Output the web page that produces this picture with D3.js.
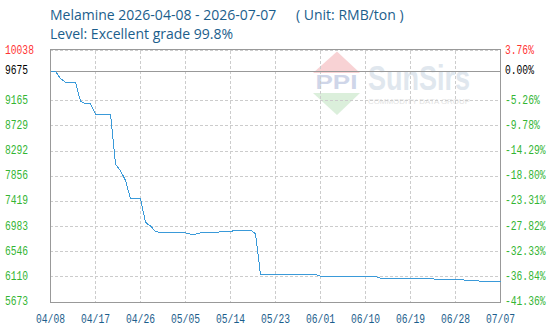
<!DOCTYPE html>
<html lang="en">
<head>
    <meta charset="UTF-8">
    <title>Melamine price</title>
    <style>
        body { margin: 0; background: #fff; }
        svg { display: block; }
        .title { font-family: "Open Sans", sans-serif; font-size: 14px; fill: #1b5e8c; }
        .tick-label { font-family: "Liberation Mono", monospace; font-size: 12px; }
        .grid { stroke: #cccccc; stroke-width: 1; stroke-dasharray: 3,2; shape-rendering: crispEdges; }
        .axis-line { stroke: #999999; stroke-width: 1; shape-rendering: crispEdges; }
        .price-line { fill: none; stroke: #3a9ad9; stroke-width: 1; shape-rendering: crispEdges; }
    </style>
</head>
<body>
    <svg width="550" height="332"></svg>
    <script src="https://d3js.org/d3.v7.min.js"></script>
    <script>
        // first day of the series, one value per day after it
        const startDate = "2026-04-08";
        const prices = [
            9675, 9675, 9550, 9485, 9485, 9485, 9160, 9110, 9110, 8935,
            8935, 8935, 8935, 8065, 7950, 7785, 7465, 7465, 7465, 7055,
            6990, 6900, 6875, 6875, 6875, 6875, 6875, 6875, 6850, 6850,
            6875, 6875, 6875, 6875, 6895, 6895, 6895, 6920, 6920, 6920,
            6920, 6860, 6150, 6150, 6150, 6150, 6150, 6150, 6150, 6150,
            6150, 6150, 6150, 6150, 6120, 6120, 6120, 6120, 6120, 6120,
            6120, 6120, 6120, 6120, 6120, 6120, 6083, 6083, 6083, 6083,
            6083, 6083, 6083, 6083, 6083, 6083, 6083, 6066, 6066, 6066,
            6066, 6066, 6066, 6049, 6049, 6049, 6031, 6031, 6031, 6031,
            6031
        ];
        const xTickLabels = ["04/08", "04/17", "04/26", "05/05", "05/14", "05/23",
                             "06/01", "06/10", "06/19", "06/28", "07/07"];
        const yTickValues = [5673, 6109.5, 6546, 6982.5, 7419, 7855.5, 8292, 8728.5, 9165, 9675, 10038];
        const yLeftLabels = ["5673", "6110", "6546", "6983", "7419", "7856", "8292", "8729", "9165", "9675", "10038"];
        const yRightLabels = ["-41.36%", "-36.84%", "-32.33%", "-27.82%", "-23.31%", "-18.80%",
                              "-14.29%", "-9.78%", "-5.26%", "0.00%", "3.76%"];
        const baseValue = 9675;

        const plotLeft = 50, plotRight = 500, plotTop = 50.5, plotBottom = 302;
        const squeeze = 5.8 / 7.2; // narrow pixel-font look of the tick labels

        const parseDay = d3.timeParse("%Y-%m-%d");
        const parseTick = d3.timeParse("%Y/%m/%d");
        const start = parseDay(startDate);
        const series = prices.map((v, i) => ({ date: d3.timeDay.offset(start, i), value: v }));
        const tickDates = xTickLabels.map(l => parseTick("2026/" + l));

        const x = d3.scaleTime()
            .domain([tickDates[0], tickDates[tickDates.length - 1]])
            .range([plotLeft, plotRight]);
        const y = d3.scaleLinear()
            .domain([yTickValues[0], yTickValues[yTickValues.length - 1]])
            .range([plotBottom, plotTop]);

        const px = v => Math.floor(v) + 0.5;
        const svg = d3.select("svg");

        // title
        svg.append("text").attr("class", "title").attr("x", 50).attr("y", 19.5)
            .text("Melamine 2026-04-08 - 2026-07-07");
        svg.append("text").attr("class", "title").attr("x", 296).attr("y", 19.5)
            .text("( Unit: RMB/ton )");
        svg.append("text").attr("class", "title").attr("x", 50).attr("y", 38.5)
            .text("Level: Excellent grade 99.8%");

        // watermark
        const wm = svg.append("g").attr("opacity", 0.7);
        wm.append("path").attr("d", "M313,73 L337,51.5 L360,73 Z").attr("fill", "#f6c0c3");
        wm.append("path").attr("d", "M313,93 L360,93 L337,115 Z").attr("fill", "#cde9cd");
        wm.append("text").attr("x", 336.5).attr("y", 89)
            .attr("text-anchor", "middle")
            .attr("font-family", "Liberation Sans, sans-serif").attr("font-weight", "bold")
            .attr("font-size", 20).attr("fill", "#bcc6e0")
            .attr("textLength", 42).attr("lengthAdjust", "spacingAndGlyphs")
            .text("PPI");
        wm.append("text").attr("x", 368).attr("y", 90)
            .attr("font-family", "Liberation Sans, sans-serif").attr("font-weight", "bold")
            .attr("font-size", 35).attr("fill", "#d3dde8")
            .attr("textLength", 102).attr("lengthAdjust", "spacingAndGlyphs")
            .text("SunSirs");
        wm.append("text").attr("x", 368).attr("y", 104)
            .attr("font-family", "Liberation Sans, sans-serif")
            .attr("font-size", 6.5).attr("fill", "#d6d6d6")
            .attr("textLength", 102).attr("lengthAdjust", "spacingAndGlyphs")
            .text("COMMODITY DATA GROUP");

        // vertical grid
        svg.selectAll(".vgrid")
            .data(tickDates.slice(1, -1))
            .enter()
            .append("line")
            .attr("class", "grid")
            .attr("x1", d => px(x(d))).attr("x2", d => px(x(d)))
            .attr("y1", plotTop).attr("y2", plotBottom);

        // horizontal grid (not the base line and not the bottom axis)
        svg.selectAll(".hgrid")
            .data(yTickValues.filter(v => v !== baseValue && v !== yTickValues[0]))
            .enter()
            .append("line")
            .attr("class", "grid")
            .attr("x1", plotLeft).attr("x2", plotRight)
            .attr("y1", d => px(y(d))).attr("y2", d => px(y(d)));

        // frame and base line
        svg.append("line").attr("class", "axis-line")
            .attr("x1", plotLeft).attr("x2", plotRight + 1).attr("y1", 49.5).attr("y2", 49.5);
        svg.append("line").attr("class", "axis-line")
            .attr("x1", plotLeft).attr("x2", plotRight + 1)
            .attr("y1", px(y(baseValue))).attr("y2", px(y(baseValue)));
        svg.append("line").attr("class", "axis-line")
            .attr("x1", plotLeft + 0.5).attr("x2", plotLeft + 0.5).attr("y1", 49.5).attr("y2", plotBottom + 1);
        svg.append("line").attr("class", "axis-line")
            .attr("x1", plotRight + 0.5).attr("x2", plotRight + 0.5).attr("y1", 49.5).attr("y2", plotBottom + 1);
        svg.append("line").attr("class", "axis-line")
            .attr("x1", plotLeft).attr("x2", plotRight + 1).attr("y1", plotBottom + 0.5).attr("y2", plotBottom + 0.5);

        // price line
        const line = d3.line()
            .x(d => x(d.date) + 0.5)
            .y(d => y(d.value))
            .curve(d3.curveLinear);
        svg.append("path")
            .datum(series)
            .attr("class", "price-line")
            .attr("d", line);

        const labelColor = v => v === baseValue ? "#000000" : (v > baseValue ? "#ff3333" : "#33b533");

        // left axis labels
        svg.selectAll(".ylabel-left")
            .data(yTickValues)
            .enter()
            .append("text")
            .attr("class", "tick-label")
            .attr("transform", d => `translate(5,${y(d) + 3}) scale(${squeeze},1)`)
            .attr("fill", labelColor)
            .text((d, i) => yLeftLabels[i]);

        // right axis labels
        svg.selectAll(".ylabel-right")
            .data(yTickValues)
            .enter()
            .append("text")
            .attr("class", "tick-label")
            .attr("transform", d => `translate(505,${y(d) + 3}) scale(${squeeze},1)`)
            .attr("fill", labelColor)
            .text((d, i) => yRightLabels[i]);

        // bottom axis labels
        svg.selectAll(".xlabel")
            .data(tickDates)
            .enter()
            .append("text")
            .attr("class", "tick-label")
            .attr("text-anchor", "middle")
            .attr("transform", d => `translate(${x(d) + 0.5},323) scale(${squeeze},1)`)
            .attr("fill", "#1b5e8c")
            .text((d, i) => xTickLabels[i]);
    </script>
</body>
</html>
